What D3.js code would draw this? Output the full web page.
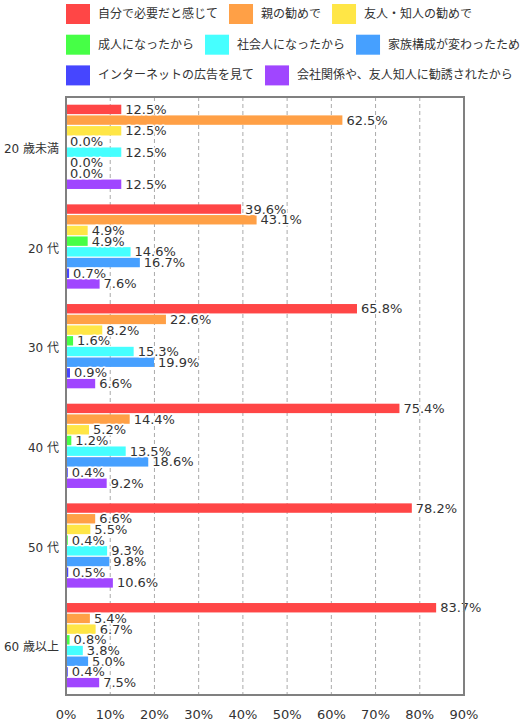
<!DOCTYPE html>
<html><head><meta charset="utf-8">
<script src="https://cdn.jsdelivr.net/npm/d3@7"></script>
<style>
body{margin:0;background:#fff;}
text{font-family:"DejaVu Sans","Noto Sans CJK JP",sans-serif;}
</style></head>
<body><svg id="c" width="520" height="722"></svg>
<script>
const groups = ["20 歳未満","20 代","30 代","40 代","50 代","60 歳以上"];
const series = ["自分で必要だと感じて","親の勧めで","友人・知人の勧めで","成人になったから","社会人になったから","家族構成が変わったため","インターネットの広告を見て","会社関係や、友人知人に勧誘されたから"];
const colors = ["#ff4646","#ffa046","#ffe646","#46ff46","#46ffff","#46a0ff","#4646ff","#a046ff"];
const values = [
  [12.5, 62.5, 12.5, 0.0, 12.5, 0.0, 0.0, 12.5],
  [39.6, 43.1, 4.9, 4.9, 14.6, 16.7, 0.7, 7.6],
  [65.8, 22.6, 8.2, 1.6, 15.3, 19.9, 0.9, 6.6],
  [75.4, 14.4, 5.2, 1.2, 13.5, 18.6, 0.4, 9.2],
  [78.2, 6.6, 5.5, 0.4, 9.3, 9.8, 0.5, 10.6],
  [83.7, 5.4, 6.7, 0.8, 3.8, 5.0, 0.4, 7.5]
];
const ticks = [0,10,20,30,40,50,60,70,80,90];
const legendRows = [[0,1,2],[3,4,5],[6,7]];

const svg = d3.select("#c");
const L = 66, R = 464, T = 97, B = 695;
const x = d3.scaleLinear().domain([0,90]).range([L,R]);
const y0 = d3.scaleBand().domain(groups).range([T,B]);
const y1 = d3.scaleBand().domain(d3.range(series.length)).range([0,y0.bandwidth()]).paddingInner(0.12).paddingOuter(0.72);

// legend
legendRows.forEach((row,ri)=>{
  let cx = L;
  const ly = 4 + ri*30.7;
  row.forEach(i=>{
    svg.append("rect").attr("x",cx).attr("y",ly).attr("width",24).attr("height",20).attr("fill",colors[i]);
    const t = svg.append("text").attr("x",cx+32).attr("y",ly+10).attr("dominant-baseline","central")
      .attr("font-size",12).attr("fill","#333").text(series[i]);
    cx += 32 + t.node().getComputedTextLength() + 11;
  });
});

// gridlines
svg.append("g").selectAll("line").data(ticks.slice(1,-1)).join("line")
  .attr("x1",d=>x(d)).attr("x2",d=>x(d)).attr("y1",T).attr("y2",B)
  .attr("stroke","#aaa").attr("stroke-dasharray","4,3");

// bars
const g = svg.append("g").selectAll("g").data(values).join("g")
  .attr("transform",(d,i)=>`translate(0,${y0(groups[i])})`);
g.selectAll("rect").data(d=>d).join("rect")
  .attr("x",x(0)).attr("y",(d,i)=>y1(i)).attr("width",d=>x(d)-x(0)).attr("height",y1.bandwidth())
  .attr("fill",(d,i)=>colors[i]);
g.selectAll("text").data(d=>d).join("text")
  .attr("x",d=>x(d)+4).attr("y",(d,i)=>y1(i)+y1.bandwidth()/2)
  .attr("dominant-baseline","central").attr("font-size",13).attr("fill","#333")
  .attr("stroke","#fff").attr("stroke-width",3).attr("paint-order","stroke").attr("stroke-linejoin","round")
  .text(d=>d.toFixed(1)+"%");

// frame
svg.append("rect").attr("x",L).attr("y",T).attr("width",R-L).attr("height",B-T)
  .attr("fill","none").attr("stroke","#808080").attr("stroke-width",2);

// group labels
svg.append("g").selectAll("text").data(groups).join("text")
  .attr("x",L-7).attr("y",d=>y0(d)+y0.bandwidth()/2+2).attr("text-anchor","end")
  .attr("dominant-baseline","central").attr("font-size",12).attr("fill","#333").text(d=>d);

// x tick labels
svg.append("g").selectAll("text").data(ticks).join("text")
  .attr("x",d=>x(d)).attr("y",714).attr("text-anchor","middle")
  .attr("dominant-baseline","central").attr("font-size",13).attr("fill","#333").text(d=>d+"%");
</script></body></html>
